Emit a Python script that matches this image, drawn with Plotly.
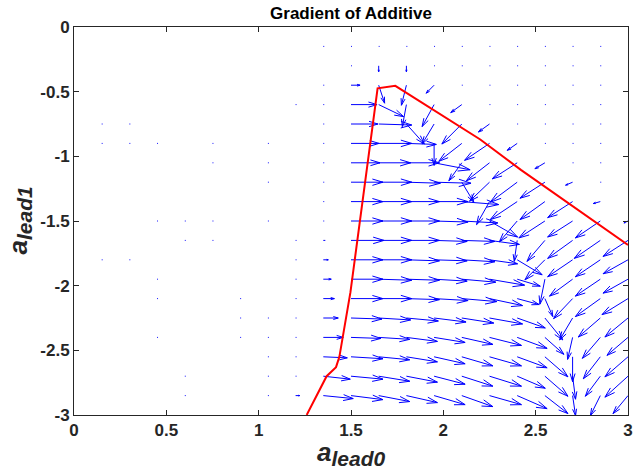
import math
import plotly.graph_objects as go

# ---------------- data ----------------
x_cols = [1.2, 1.35, 1.5, 1.65, 1.8, 1.95, 2.1, 2.25, 2.4, 2.55, 2.7, 2.85, 3.0]
y_rows = [-0.15, -0.3, -0.45, -0.6, -0.75, -0.9, -1.05, -1.2, -1.35, -1.5,
          -1.65, -1.8, -1.95, -2.1, -2.25, -2.4, -2.55, -2.7, -2.85]
N = None
d = 0.005
# gradient components (as drawn, data units); None = no arrow
U = [
    [N, d, d, d, d, d, d, d, d, d, d, d, N],
    [N, N, d, 0.0, 0.0, d, d, d, d, d, d, d, N],
    [N, d, 0.049, 0.032, -0.027, -0.043, d, d, d, d, d, d, N],
    [d, d, 0.141, 0.135, -0.022, -0.065, -0.060, d, d, d, d, d, N],
    [N, d, 0.146, 0.179, 0.097, -0.065, -0.108, -0.060, d, d, d, d, N],
    [N, d, 0.152, 0.179, 0.162, 0.0, -0.125, -0.135, -0.054, d, d, d, N],
    [N, d, 0.157, 0.173, 0.179, 0.195, -0.070, -0.125, -0.135, -0.054, d, d, N],
    [N, d, 0.173, 0.179, 0.184, 0.200, 0.065, -0.108, -0.146, -0.135, -0.038, d, d],
    [N, 0.005, 0.173, 0.179, 0.179, 0.184, 0.200, -0.070, -0.146, -0.135, -0.135, -0.038, d],
    [N, 0.005, 0.173, 0.179, 0.179, 0.184, 0.195, 0.152, -0.097, -0.141, -0.135, -0.135, -0.022],
    [d, 0.011, 0.179, 0.179, 0.179, 0.179, 0.179, 0.162, -0.016, -0.097, -0.135, -0.141, -0.135],
    [d, 0.027, 0.173, 0.179, 0.179, 0.179, 0.179, 0.152, 0.135, -0.108, -0.135, -0.135, -0.135],
    [d, 0.043, 0.173, 0.179, 0.179, 0.179, 0.184, 0.190, 0.125, -0.027, -0.125, -0.135, -0.135],
    [d, 0.060, 0.173, 0.179, 0.179, 0.184, 0.190, 0.179, 0.119, 0.043, -0.103, -0.135, -0.141],
    [d, 0.081, 0.168, 0.173, 0.173, 0.173, 0.173, 0.179, 0.152, 0.097, -0.070, -0.119, -0.125],
    [d, 0.108, 0.162, 0.168, 0.168, 0.168, 0.168, 0.173, 0.162, 0.103, -0.027, -0.097, -0.114],
    [d, 0.130, 0.173, 0.168, 0.168, 0.168, 0.168, 0.173, 0.162, 0.125, 0.0, -0.092, -0.125],
    [d, 0.146, 0.173, 0.168, 0.168, 0.168, 0.168, 0.173, 0.152, 0.125, 0.016, -0.081, -0.125],
    [0.022, 0.162, 0.173, 0.168, 0.168, 0.168, 0.168, 0.173, 0.162, 0.125, 0.016, -0.054, -0.081],
]
V = [
    [N, 0, 0, 0, 0, 0, 0, 0, 0, 0, 0, 0, N],
    [N, N, 0, -0.046, -0.046, 0, 0, 0, 0, 0, 0, 0, N],
    [N, 0, 0.0, -0.139, -0.155, -0.062, 0, 0, 0, 0, 0, 0, N],
    [0, 0, 0.0, -0.093, -0.170, -0.170, -0.062, 0, 0, 0, 0, 0, N],
    [N, 0, 0.0, -0.008, -0.155, -0.155, -0.155, -0.062, 0, 0, 0, 0, N],
    [N, 0, 0.0, 0.0, -0.008, -0.170, -0.139, -0.131, -0.054, 0, 0, 0, N],
    [N, 0, 0.0, 0.0, 0.0, -0.054, -0.139, -0.139, -0.124, -0.046, 0, 0, N],
    [N, 0, 0.0, 0.0, -0.008, -0.008, -0.155, -0.147, -0.155, -0.124, -0.023, 0, 0],
    [N, 0.0, 0.0, 0.0, 0.0, 0.0, -0.023, -0.178, -0.139, -0.139, -0.124, -0.015, 0],
    [N, 0.0, 0.0, 0.0, 0.0, -0.008, -0.015, -0.124, -0.162, -0.131, -0.124, -0.131, -0.015],
    [0, 0.0, 0.0, 0.0, 0.0, -0.008, -0.008, -0.031, -0.162, -0.162, -0.139, -0.139, -0.124],
    [0, 0.0, 0.0, 0.0, -0.008, -0.008, -0.015, -0.031, -0.116, -0.155, -0.131, -0.131, -0.108],
    [0, 0.0, 0.0, -0.008, -0.008, -0.015, -0.023, -0.046, -0.054, -0.193, -0.131, -0.131, -0.108],
    [0, 0.0, 0.0, 0.0, -0.008, -0.015, -0.023, -0.054, -0.046, -0.139, -0.155, -0.139, -0.124],
    [0, 0.0, -0.008, -0.015, -0.023, -0.031, -0.039, -0.046, -0.077, -0.170, -0.170, -0.147, -0.147],
    [0, 0.0, -0.008, -0.015, -0.031, -0.039, -0.054, -0.062, -0.085, -0.131, -0.170, -0.162, -0.139],
    [0, -0.008, -0.015, -0.023, -0.039, -0.054, -0.070, -0.070, -0.085, -0.155, -0.193, -0.170, -0.155],
    [0, -0.023, -0.023, -0.039, -0.046, -0.062, -0.077, -0.077, -0.093, -0.155, -0.178, -0.155, -0.162],
    [0.0, -0.023, -0.031, -0.046, -0.054, -0.070, -0.085, -0.070, -0.101, -0.139, -0.155, -0.155, -0.139],
]
# near-zero gradient points in the left part of the domain
dot_x = [0.15, 0.3, 0.15, 0.3, 0.45, 0.75, 1.05, 0.75, 1.05, 1.05, 0.45, 0.6, 0.75, 1.05,
         0.6, 0.75, 0.15, 0.3, 0.45, 0.45, 0.9, 0.9, 1.05, 0.45, 0.9, 1.05, 1.05, 0.6, 1.05,
         0.6, 1.05]
dot_y = [-0.75, -0.75, -0.9, -0.9, -0.9, -0.9, -0.9, -1.05, -1.05, -1.2, -1.5, -1.5, -1.5, -1.5,
         -1.65, -1.65, -1.8, -1.8, -1.95, -2.1, -2.1, -2.25, -2.25, -2.4, -2.4, -2.4, -2.55, -2.7, -2.7,
         -2.85, -2.85]
dot_u = [0.005] * len(dot_x)
dot_v = [0.0] * len(dot_x)

# boundary curve
bnd_x = [1.26, 1.368, 1.419, 1.437, 1.497, 1.585, 1.612, 1.644, 1.74, 2.2, 2.42, 3.0]
bnd_y = [-3.0, -2.70, -2.63, -2.55, -2.05, -1.11, -0.84, -0.474, -0.455, -0.87, -1.105, -1.685]

x_ticks = [0, 0.5, 1, 1.5, 2, 2.5, 3]
x_tick_text = ["0", "0.5", "1", "1.5", "2", "2.5", "3"]
y_ticks = [0, -0.5, -1, -1.5, -2, -2.5, -3]
y_tick_text = ["0", "-0.5", "-1", "-1.5", "-2", "-2.5", "-3"]

# ---------------- layout geometry ----------------
W, H = 633, 471
ML, MR, MT, MB = 74, 5, 27, 56
PW, PH = W - ML - MR, H - MT - MB
XR, YR = (0, 3), (-3, 0)
sx = PW / (XR[1] - XR[0])
sy = PH / (YR[1] - YR[0])

qx, qy = [], []


def add_arrow(x0, y0, u, v):
    tx, ty = x0 + u, y0 + v
    qx.extend([x0, tx, None])
    qy.extend([y0, ty, None])
    pu, pv = u * sx, v * sy
    if math.hypot(pu, pv) < 2.5:
        return
    a, b = 0.33, 0.30
    h1x = tx - a * (pu + b * pv) / sx
    h1y = ty - a * (pv - b * pu) / sy
    h2x = tx - a * (pu - b * pv) / sx
    h2y = ty - a * (pv + b * pu) / sy
    qx.extend([h1x, tx, h2x, None])
    qy.extend([h1y, ty, h2y, None])


for i, yv in enumerate(y_rows):
    for j, xv in enumerate(x_cols):
        u = U[i][j]
        if u is None:
            continue
        add_arrow(xv, yv, u, V[i][j])
for xv, yv, u, v in zip(dot_x, dot_y, dot_u, dot_v):
    add_arrow(xv, yv, u, v)

fig = go.Figure()
fig.add_trace(go.Scatter(x=qx, y=qy, mode="lines",
                         line=dict(color="#0000ff", width=1),
                         hoverinfo="skip", showlegend=False))
fig.add_trace(go.Scatter(x=bnd_x, y=bnd_y, mode="lines",
                         line=dict(color="#ff0000", width=2),
                         hoverinfo="skip", showlegend=False))

axis_font = dict(family="Liberation Sans", size=17, color="#262626", weight="bold")
common = dict(showgrid=False, zeroline=False, showline=True, linecolor="#262626",
              linewidth=1, mirror="ticks", ticks="inside", ticklen=5, tickcolor="#262626",
              tickfont=axis_font, automargin=False, ticklabeloverflow="allow")
fig.update_xaxes(range=list(XR), tickvals=x_ticks, ticktext=x_tick_text, **common)
fig.update_yaxes(range=list(YR), tickvals=y_ticks, ticktext=y_tick_text, **common)

fig.update_layout(
    width=W, height=H,
    margin=dict(l=ML, r=MR, t=MT, b=MB, autoexpand=False),
    paper_bgcolor="white", plot_bgcolor="white",
    font=dict(family="Liberation Sans", color="#000000"),
    title=dict(text="<b>Gradient of Additive</b>", x=(ML + PW / 2) / W, xanchor="center",
               y=1 - 13 / H, yanchor="middle",
               font=dict(family="Liberation Sans", size=17, color="#000000")),
)
fig.add_annotation(xref="paper", yref="paper", x=0.5, y=0, yshift=-20, yanchor="top",
                   showarrow=False,
                   text="<b><i>a</i><sub><i><span style='font-size:21px'>lead0</span></i></sub></b>",
                   font=dict(family="Liberation Sans", size=26, color="#262626"))
fig.add_annotation(xref="paper", yref="paper", x=0, y=0.5, xshift=-37, xanchor="right",
                   showarrow=False, textangle=-90,
                   text="<b><i>a</i><sub><i><span style='font-size:21px'>lead1</span></i></sub></b>",
                   font=dict(family="Liberation Sans", size=26, color="#262626"))

fig.write_html("out.html", config={"displayModeBar": False},
               post_script="document.body.style.margin='0px';")
